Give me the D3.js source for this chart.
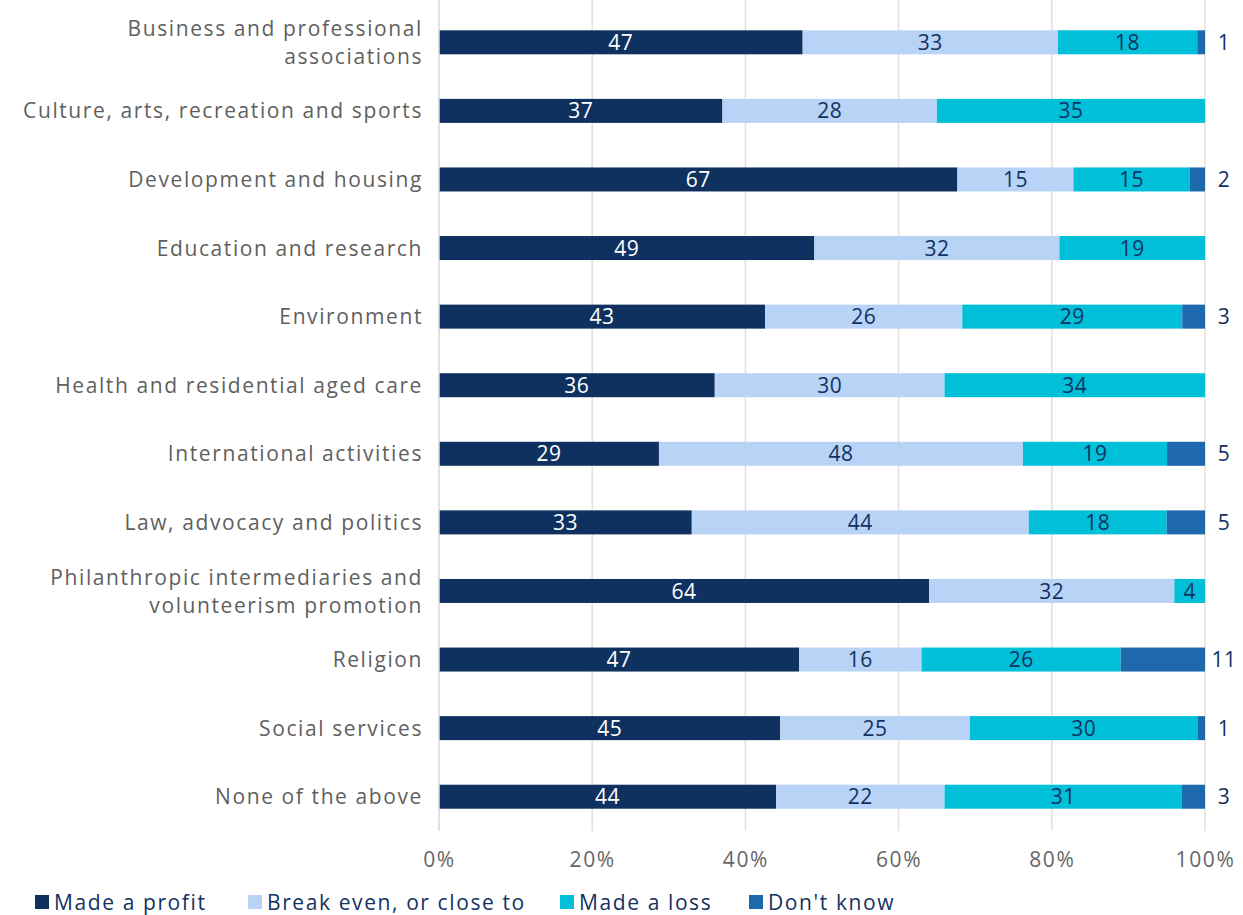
<!DOCTYPE html>
<html>
<head>
<meta charset="utf-8">
<script src="https://cdn.jsdelivr.net/npm/d3@7"></script>
<style>
  body { margin: 0; background: #fff; }
  text { font-family: "Open Sans", Lato, sans-serif; letter-spacing: 1.6px; }
</style>
</head>
<body>
<div id="chart"></div>
<script>
const categories = [
    ["Business and professional", "associations"],
    ["Culture, arts, recreation and sports"],
    ["Development and housing"],
    ["Education and research"],
    ["Environment"],
    ["Health and residential aged care"],
    ["International activities"],
    ["Law, advocacy and politics"],
    ["Philanthropic intermediaries and", "volunteerism promotion"],
    ["Religion"],
    ["Social services"],
    ["None of the above"]
];
const seriesNames = ["Made a profit", "Break even, or close to", "Made a loss", "Don't know"];
const madeProfit = [47, 37, 67, 49, 43, 36, 29, 33, 64, 47, 45, 44];
const breakEven  = [33, 28, 15, 32, 26, 30, 48, 44, 32, 16, 25, 22];
const madeLoss   = [18, 35, 15, 19, 29, 34, 19, 18, 4, 26, 30, 31];
const dontKnow   = [1, 0, 2, 0, 3, 0, 5, 5, 0, 11, 1, 3];
const tickValues = [0, 0.2, 0.4, 0.6, 0.8, 1];

const colors = ["#0f3160", "#b8d3f5", "#00bfd8", "#1e68ae"];
const labelColors = ["#ffffff", "#123262", "#123262", "#123262"];

const width = 1243;
const height = 915;
const plotLeft = 439, plotRight = 1205, plotTop = 8, plotBottom = 831;

// rows for the stack
const rows = categories.map((c, i) => ({
    idx: i,
    s0: madeProfit[i], s1: breakEven[i], s2: madeLoss[i], s3: dontKnow[i]
}));
const keys = ["s0", "s1", "s2", "s3"];
const stacked = d3.stack().keys(keys).offset(d3.stackOffsetExpand)(rows);

const xScale = d3.scaleLinear().domain([0, 1]).range([plotLeft, plotRight]);
const yScale = d3.scaleBand()
    .domain(d3.range(categories.length))
    .range([plotTop, plotBottom])
    .paddingInner(0.65)
    .paddingOuter(0.325);

const svg = d3.select("#chart").append("svg")
    .attr("width", width)
    .attr("height", height);

// gridlines
svg.append("g")
    .selectAll("line")
    .data(tickValues.slice(1))
    .enter().append("line")
    .attr("x1", d => xScale(d)).attr("x2", d => xScale(d))
    .attr("y1", plotTop - 8).attr("y2", plotBottom)
    .attr("stroke", "#e3e0da")
    .attr("stroke-width", 1.5);

// bars
const layers = svg.append("g")
    .selectAll("g")
    .data(stacked)
    .enter().append("g")
    .attr("fill", (d, i) => colors[i]);

layers.selectAll("rect")
    .data(d => d)
    .enter().append("rect")
    .attr("x", d => xScale(d[0]))
    .attr("y", d => yScale(d.data.idx))
    .attr("width", d => xScale(d[1]) - xScale(d[0]))
    .attr("height", yScale.bandwidth());

// segment labels
stacked.forEach((layer, li) => {
    const raw = [madeProfit, breakEven, madeLoss, dontKnow][li];
    svg.append("g")
        .selectAll("text")
        .data(layer.filter(d => raw[d.data.idx] > 0))
        .enter().append("text")
        .attr("x", d => li === 3 ? xScale(1) + 19 : (xScale(d[0]) + xScale(d[1])) / 2)
        .attr("y", d => yScale(d.data.idx) + yScale.bandwidth() / 2)
        .attr("dy", "0.36em")
        .attr("text-anchor", "middle")
        .attr("fill", labelColors[li])
        .style("font-size", "21px")
        .style("letter-spacing", "0.5px")
        .text(d => raw[d.data.idx]);
});

// y axis line
svg.append("line")
    .attr("x1", plotLeft).attr("x2", plotLeft)
    .attr("y1", plotTop - 8).attr("y2", plotBottom)
    .attr("stroke", "#d9d9d9")
    .attr("stroke-width", 1.5);

// category labels
const catG = svg.append("g");
categories.forEach((lines, i) => {
    const cy = yScale(i) + yScale.bandwidth() / 2;
    const t = catG.append("text")
        .attr("x", 423)
        .attr("text-anchor", "end")
        .attr("fill", "#5f5f5f")
        .style("font-size", "21px");
    lines.forEach((ln, j) => {
        t.append("tspan")
            .attr("x", 423)
            .attr("y", cy + (j - (lines.length - 1) / 2) * 28)
            .attr("dy", "0.36em")
            .text(ln);
    });
});

// x axis tick labels
const xAxis = svg.append("g")
    .attr("transform", `translate(0, ${plotBottom})`)
    .call(d3.axisBottom(xScale).tickValues(tickValues).tickFormat(d3.format(".0%")).tickSize(0).tickPadding(21));
xAxis.select(".domain").remove();
xAxis.selectAll("text")
    .attr("fill", "#666666")
    .style("font-size", "21px")
    .style("font-family", "'Open Sans', Lato, sans-serif");

// legend
const legendX = [35, 248, 560, 749];
const legend = svg.append("g")
    .selectAll("g")
    .data(seriesNames)
    .enter().append("g")
    .attr("transform", (d, i) => `translate(${legendX[i]}, 902)`);
legend.append("rect")
    .attr("x", 0).attr("y", -7)
    .attr("width", 14).attr("height", 14)
    .attr("fill", (d, i) => colors[i]);
legend.append("text")
    .attr("x", 19)
    .attr("y", 0)
    .attr("dy", "0.36em")
    .attr("fill", "#123262")
    .style("font-size", "21px")
    .text(d => d);
</script>
</body>
</html>
